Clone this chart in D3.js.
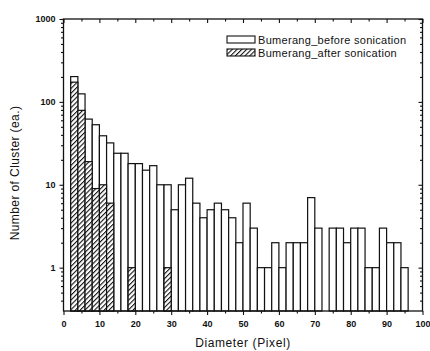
<!DOCTYPE html>
<html>
<head>
<meta charset="utf-8">
<script src="https://cdn.jsdelivr.net/npm/d3@7"></script>
<style>
  body { margin: 0; background: #fff; }
  svg text { font-family: "Liberation Sans", Arial, sans-serif; fill: #111; }
</style>
</head>
<body>
<svg width="430" height="351"></svg>
<script>
// bin left edges (pixel), bins are 2 px wide
var binStart = [2, 4, 6, 8, 10, 12, 14, 16, 18, 20, 22, 24, 26, 28, 30, 32, 34, 36, 38, 40,
                42, 44, 46, 48, 50, 52, 54, 56, 58, 60, 62, 64, 66, 68, 70, 72, 74, 76, 78, 80,
                82, 84, 86, 88, 90, 92, 94];
var beforeCounts = [202, 125, 62, 53, 39, 32, 24, 24, 18, 18, 15, 17, 10, 10, 5, 10, 12, 6, 4, 5,
                    6, 5, 4, 2, 6, 3, 1, 1, 2, 1, 2, 2, 2, 7, 3, 0, 3, 3, 2, 3,
                    3, 1, 1, 3, 2, 2, 1];
var afterCounts = [173, 79, 19, 9, 10, 6, 0, 0, 1, 0, 0, 0, 0, 1, 0, 0, 0, 0, 0, 0,
                   0, 0, 0, 0, 0, 0, 0, 0, 0, 0, 0, 0, 0, 0, 0, 0, 0, 0, 0, 0,
                   0, 0, 0, 0, 0, 0, 0];
var xTicks = [0, 10, 20, 30, 40, 50, 60, 70, 80, 90, 100];
var yTicks = [1, 10, 100, 1000];
var seriesNames = ["Bumerang_before sonication", "Bumerang_after sonication"];

var svg = d3.select("svg");
var plotL = 63.5, plotR = 422.5, plotT = 19, plotB = 311;

var x = d3.scaleLinear().domain([0, 100]).range([plotL, plotR]);
var y = d3.scaleLog().domain([0.3, 1000]).range([plotB, plotT]);

// hatch pattern
var defs = svg.append("defs");
var pat = defs.append("pattern")
    .attr("id", "hatch")
    .attr("patternUnits", "userSpaceOnUse")
    .attr("width", 3.4).attr("height", 3.4)
    .attr("patternTransform", "rotate(45)");
pat.append("rect").attr("width", 3.4).attr("height", 3.4).attr("fill", "#fff");
pat.append("line")
    .attr("x1", 0).attr("y1", 0).attr("x2", 0).attr("y2", 3.4)
    .attr("stroke", "#111").attr("stroke-width", 2.2);

var before = binStart.map(function(b, i) { return { x: b, v: beforeCounts[i] }; })
    .filter(function(d) { return d.v > 0; });
var after = binStart.map(function(b, i) { return { x: b, v: afterCounts[i] }; })
    .filter(function(d) { return d.v > 0; });

svg.append("g").selectAll("rect")
    .data(before).enter().append("rect")
    .attr("x", function(d) { return x(d.x); })
    .attr("width", function(d) { return x(d.x + 2) - x(d.x); })
    .attr("y", function(d) { return y(d.v); })
    .attr("height", function(d) { return plotB - y(d.v); })
    .attr("fill", "#fff").attr("stroke", "#111").attr("stroke-width", 1.2);

svg.append("g").selectAll("rect")
    .data(after).enter().append("rect")
    .attr("x", function(d) { return x(d.x); })
    .attr("width", function(d) { return x(d.x + 2) - x(d.x); })
    .attr("y", function(d) { return y(d.v); })
    .attr("height", function(d) { return plotB - y(d.v); })
    .attr("fill", "url(#hatch)").attr("stroke", "#111").attr("stroke-width", 1.2);

// frame
svg.append("rect")
    .attr("x", plotL).attr("y", plotT)
    .attr("width", plotR - plotL).attr("height", plotB - plotT)
    .attr("fill", "none").attr("stroke", "#111").attr("stroke-width", 1.3);

var minorX = d3.range(5, 100, 10);
var minorY = [];
[0.1, 1, 10, 100].forEach(function(dec) {
  for (var k = 2; k <= 9; k++) {
    var v = dec * k;
    if (v > 0.31 && v < 1000) minorY.push(v);
  }
});

function styleAxis(g) {
  g.select(".domain").remove();
  g.selectAll("line").attr("stroke", "#111").attr("stroke-width", 1.1);
  g.selectAll("text").attr("font-size", "9px").attr("font-weight", "bold");
}

// bottom
svg.append("g").attr("transform", "translate(0," + plotB + ")")
    .call(d3.axisBottom(x).tickValues(xTicks).tickSize(4).tickPadding(6).tickFormat(d3.format("d")))
    .call(styleAxis);
svg.append("g").attr("transform", "translate(0," + plotB + ")")
    .call(d3.axisBottom(x).tickValues(minorX).tickSize(2.5).tickFormat(""))
    .call(styleAxis);
// top
svg.append("g").attr("transform", "translate(0," + plotT + ")")
    .call(d3.axisTop(x).tickValues(xTicks).tickSize(-4).tickFormat(""))
    .call(styleAxis);
svg.append("g").attr("transform", "translate(0," + plotT + ")")
    .call(d3.axisTop(x).tickValues(minorX).tickSize(-2.5).tickFormat(""))
    .call(styleAxis);
// left
svg.append("g").attr("transform", "translate(" + plotL + ",0)")
    .call(d3.axisLeft(y).tickValues(yTicks).tickSize(4).tickPadding(4).tickFormat(d3.format("d")))
    .call(styleAxis);
svg.append("g").attr("transform", "translate(" + plotL + ",0)")
    .call(d3.axisLeft(y).tickValues(minorY).tickSize(2.5).tickFormat(""))
    .call(styleAxis);
// right
svg.append("g").attr("transform", "translate(" + plotR + ",0)")
    .call(d3.axisRight(y).tickValues(yTicks).tickSize(-4).tickFormat(""))
    .call(styleAxis);
svg.append("g").attr("transform", "translate(" + plotR + ",0)")
    .call(d3.axisRight(y).tickValues(minorY).tickSize(-2.5).tickFormat(""))
    .call(styleAxis);

// axis titles
svg.append("text")
    .attr("x", (plotL + plotR) / 2).attr("y", 347)
    .attr("text-anchor", "middle")
    .attr("font-size", "12px").attr("letter-spacing", "0.6px")
    .text("Diameter (Pixel)");
svg.append("text")
    .attr("transform", "translate(19,173) rotate(-90)")
    .attr("text-anchor", "middle")
    .attr("font-size", "12px").attr("letter-spacing", "0.4px")
    .text("Number of Cluster (ea.)");

// legend
var legend = svg.append("g").selectAll("g")
    .data(seriesNames).enter().append("g")
    .attr("transform", function(d, i) { return "translate(227," + (36 + i * 13) + ")"; });
legend.append("rect")
    .attr("width", 28).attr("height", 7)
    .attr("fill", function(d, i) { return i === 0 ? "#fff" : "url(#hatch)"; })
    .attr("stroke", "#111").attr("stroke-width", 1.1);
legend.append("text")
    .attr("x", 31).attr("y", 7.5)
    .attr("font-size", "11px").attr("letter-spacing", "0.3px")
    .text(function(d) { return d; });
</script>
</body>
</html>
